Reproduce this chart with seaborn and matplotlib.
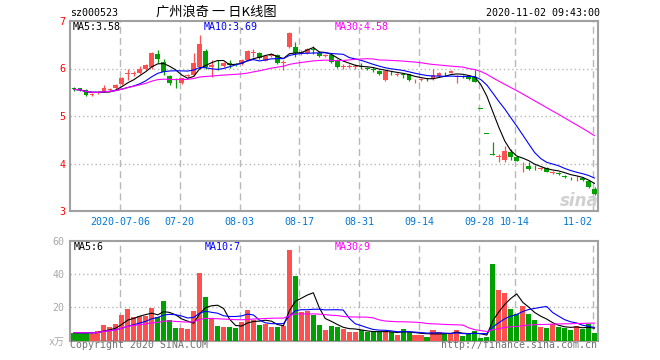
import numpy as np
import pandas as pd
import matplotlib
matplotlib.use("Agg")
import matplotlib.pyplot as plt
import seaborn as sns

# ---------------- data ----------------
code = "sz000523"
title = "广州浪奇 一 日K线图"
timestamp = "2020-11-02 09:43:00"

opens = [5.59, 5.58, 5.55, 5.45, 5.48, 5.51, 5.54, 5.58, 5.67, 5.88,
         5.89, 5.90, 5.99, 6.04, 6.30, 6.14, 5.84, 5.70, 5.69, 5.85,
         5.86, 6.04, 6.37, 6.04, 6.10, 6.05, 6.12, 6.09, 6.09, 6.17,
         6.33, 6.32, 6.16, 6.27, 6.28, 6.12, 6.46, 6.46, 6.33, 6.33,
         6.40, 6.33, 6.27, 6.28, 6.18, 6.04, 6.04, 6.04, 6.05, 6.02,
         5.98, 5.94, 5.76, 5.91, 5.87, 5.89, 5.88, 5.75, 5.76, 5.78,
         5.77, 5.85, 5.89, 5.91, 5.83, 5.84, 5.84, 5.83, 5.15, 4.63,
         4.19, 4.13, 4.07, 4.25, 4.14, 3.94, 3.95, 3.91, 3.89, 3.90,
         3.80, 3.81, 3.73, 3.70, 3.69, 3.69, 3.64, 3.46]
highs = [5.61, 5.60, 5.56, 5.48, 5.52, 5.65, 5.58, 5.67, 5.83, 6.00,
         5.95, 6.06, 6.10, 6.34, 6.40, 6.21, 5.86, 5.79, 5.81, 5.89,
         6.32, 6.70, 6.42, 6.18, 6.18, 6.14, 6.18, 6.11, 6.19, 6.39,
         6.42, 6.34, 6.28, 6.33, 6.30, 6.17, 6.76, 6.56, 6.38, 6.43,
         6.47, 6.36, 6.31, 6.30, 6.20, 6.10, 6.09, 6.09, 6.12, 6.04,
         6.03, 5.96, 5.97, 5.95, 5.91, 5.91, 5.89, 5.78, 5.79, 5.80,
         5.99, 5.92, 5.92, 5.97, 5.86, 5.86, 5.86, 5.97, 5.15, 4.63,
         4.46, 4.21, 4.37, 4.30, 4.16, 4.04, 4.03, 3.96, 3.93, 3.92,
         3.85, 3.83, 3.76, 3.72, 3.74, 3.71, 3.66, 3.50]
lows = [5.53, 5.52, 5.42, 5.43, 5.46, 5.50, 5.52, 5.56, 5.66, 5.75,
        5.85, 5.88, 5.97, 6.00, 6.11, 5.86, 5.65, 5.58, 5.67, 5.82,
        5.84, 6.00, 6.00, 5.82, 5.97, 6.03, 6.02, 6.05, 6.08, 6.15,
        6.25, 6.21, 6.15, 6.25, 6.10, 5.97, 6.44, 6.25, 6.28, 6.31,
        6.31, 6.25, 6.24, 6.12, 6.02, 6.00, 6.01, 6.00, 5.98, 5.97,
        5.93, 5.87, 5.74, 5.86, 5.84, 5.81, 5.74, 5.69, 5.73, 5.74,
        5.75, 5.83, 5.85, 5.90, 5.69, 5.80, 5.75, 5.71, 5.15, 4.63,
        4.17, 4.04, 4.04, 4.07, 4.05, 3.82, 3.86, 3.86, 3.86, 3.82,
        3.77, 3.76, 3.69, 3.66, 3.63, 3.63, 3.49, 3.34]
closes = [5.56, 5.54, 5.44, 5.46, 5.49, 5.58, 5.56, 5.65, 5.81, 5.90,
          5.90, 5.99, 6.07, 6.32, 6.21, 5.93, 5.70, 5.69, 5.79, 5.86,
          6.12, 6.51, 6.04, 6.08, 6.09, 6.12, 6.07, 6.08, 6.17, 6.37,
          6.34, 6.23, 6.26, 6.31, 6.12, 6.13, 6.74, 6.33, 6.34, 6.41,
          6.39, 6.27, 6.28, 6.14, 6.04, 6.05, 6.05, 6.06, 6.03, 5.99,
          5.97, 5.89, 5.95, 5.90, 5.88, 5.87, 5.76, 5.76, 5.77, 5.77,
          5.86, 5.90, 5.88, 5.95, 5.84, 5.82, 5.77, 5.72, 5.15, 4.63,
          4.17, 4.15, 4.27, 4.14, 4.06, 3.95, 3.88, 3.90, 3.90, 3.83,
          3.81, 3.78, 3.72, 3.69, 3.70, 3.65, 3.50, 3.36]
volumes = [4.8, 4.8, 4.8, 4.2, 6.0, 9.4, 8.2, 10.0, 15.4, 19.0,
           14.2, 15.0, 14.8, 19.6, 14.0, 23.8, 12.4, 7.6, 7.6, 7.2,
           17.8, 40.6, 26.2, 13.0, 8.8, 8.2, 8.2, 7.6, 11.0, 18.2,
           12.6, 9.4, 10.2, 8.2, 8.2, 8.8, 54.4, 38.8, 17.2, 17.8,
           15.6, 9.4, 6.4, 9.0, 8.4, 7.0, 5.4, 5.4, 6.2, 5.4,
           5.0, 5.0, 5.8, 5.4, 3.4, 7.0, 5.0, 3.4, 3.4, 2.2,
           6.4, 5.0, 4.2, 3.8, 6.4, 3.0, 3.8, 5.8, 1.8, 2.4,
           46.0, 30.4, 28.6, 19.2, 16.2, 20.8, 16.0, 12.4, 8.2, 7.6,
           9.8, 8.4, 7.8, 6.4, 9.0, 7.2, 9.8, 4.8]

tick_idx = [8, 18, 28, 38, 48, 58, 68, 74, 87]
tick_labels = ["2020-07-06", "07-20", "08-03", "08-17", "08-31",
               "09-14", "09-28", "10-14", "11-02"]
price_ticks = [3, 4, 5, 6, 7]
vol_ticks = [0, 20, 40, 60]
vol_tick_labels = ["x万", "20", "40", "60"]
price_ma_labels = ["MA5:3.58", "MA10:3.69", "MA30:4.58"]
vol_ma_labels = ["MA5:6", "MA10:7", "MA30:9"]
footer_left = "Copyright 2020 SINA.COM"
footer_right = "http://finance.sina.com.cn"
watermark = "sina"

# ---------------- derived ----------------
df = pd.DataFrame(dict(open=opens, high=highs, low=lows, close=closes, volume=volumes))
df["i"] = np.arange(len(df))
prev = df["close"].shift(1).fillna(df["close"])
df["up"] = (df["close"] > df["open"]) | ((df["close"] == df["open"]) & (df["close"] >= prev))
for w in (5, 10, 30):
    df[f"ma{w}"] = df["close"].rolling(w, min_periods=1).mean()
    df[f"vma{w}"] = df["volume"].rolling(w, min_periods=1).mean()

RED = "#FF5050"
GREEN = "#00A000"
MA_COLORS = ["#000000", "#0000FF", "#FF00FF"]
GRID = "#B8B8B8"
SPINE = "#A0A0A0"
MONO = ["DejaVu Sans Mono", "Noto Sans CJK SC"]

sns.set_theme(style="white")
plt.rcParams["font.family"] = MONO

W, H = 660, 360
fig = plt.figure(figsize=(W / 100, H / 100), dpi=100)
fig.patch.set_facecolor("white")


def axes_px(l, t, r, b):
    return fig.add_axes([l / W, 1 - b / H, (r - l) / W, (b - t) / H])


ax = axes_px(70, 21, 597.7, 211)
axv = axes_px(70, 240.7, 597.7, 340.7)
XL = (-0.67, 87.53)
grid_x = np.array(tick_idx) - 0.33
colors = np.where(df["up"], RED, GREEN)

# ---------------- price panel ----------------
for gx in grid_x:
    ax.axvline(gx, color=GRID, lw=1, ls=(0, (5, 3)), zorder=1)
for gy in price_ticks[1:-1]:
    ax.axhline(gy, color=GRID, lw=1, ls=(0, (1, 2)), zorder=1)

ax.vlines(df["i"], df["low"], df["high"], colors=colors, lw=0.9, zorder=3)
body_lo = np.minimum(df["open"], df["close"])
body_h = np.maximum((df["close"] - df["open"]).abs(), 0.012)
ax.bar(df["i"], body_h, bottom=body_lo, width=0.8, color=colors, lw=0, zorder=4)

for w, c in zip((5, 10, 30), MA_COLORS):
    sns.lineplot(data=df, x="i", y=f"ma{w}", ax=ax, color=c, lw=0.8, zorder=5, legend=False)

ax.set_xlim(*XL)
ax.set_ylim(3, 7)
ax.set_xlabel("")
ax.set_ylabel("")
ax.set_yticks(price_ticks)
ax.set_yticklabels([str(t) for t in price_ticks])
ax.tick_params(axis="y", length=0, pad=3.5, labelcolor="#FF0000", labelsize=7.2)
ax.set_xticks(grid_x)
ax.set_xticklabels(tick_labels)
ax.tick_params(axis="x", length=0, pad=4.5, labelcolor="#0078D7", labelsize=7.2)
lbls = ax.get_xticklabels()
lbls[-1].set_horizontalalignment("right")
for s in ax.spines.values():
    s.set_color(SPINE)
    s.set_linewidth(1.5)

ax.text(0.965, 0.05, watermark, transform=ax.transAxes, color="#D0D0D0", fontsize=12,
        fontweight="bold", fontstyle="italic", family="DejaVu Sans",
        ha="center", va="center", zorder=2)

# ---------------- volume panel ----------------
for gx in grid_x:
    axv.axvline(gx, color=GRID, lw=1, ls=(0, (5, 3)), zorder=1)
for gy in vol_ticks[1:-1]:
    axv.axhline(gy, color=GRID, lw=1, ls=(0, (1, 2)), zorder=1)
axv.bar(df["i"], df["volume"], width=0.85, color=colors, lw=0, zorder=3)
for w, c in zip((5, 10, 30), MA_COLORS):
    sns.lineplot(data=df, x="i", y=f"vma{w}", ax=axv, color=c, lw=0.8, zorder=5, legend=False)
axv.set_xlim(*XL)
axv.set_ylim(0, 60)
axv.set_xlabel("")
axv.set_ylabel("")
axv.set_xticks([])
axv.set_yticks(vol_ticks)
axv.set_yticklabels(vol_tick_labels)
axv.tick_params(axis="y", length=0, pad=4, labelcolor="#A8A8A8", labelsize=7.2)
for s in axv.spines.values():
    s.set_color(SPINE)
    s.set_linewidth(1.5)


def ftext(x, y, s, **kw):
    fig.text(x / W, 1 - y / H, s, **kw)


# legends
for (lab, x, c) in zip(price_ma_labels, (73, 204, 334.5), MA_COLORS):
    ftext(x, 27, lab, color=c, fontsize=7.2, va="center", ha="left")
for (lab, x, c) in zip(vol_ma_labels, (74, 205, 335), MA_COLORS):
    ftext(x, 246.5, lab, color=c, fontsize=7.2, va="center", ha="left")

# header
ftext(70, 12.5, code, color="black", fontsize=7.2, va="center", ha="left")
ftext(216, 12.5, title, color="black", fontsize=9.5, va="center", ha="center",
      family=["Noto Sans CJK SC", "DejaVu Sans"])
ftext(600, 12.5, timestamp, color="black", fontsize=7.2, va="center", ha="right")

# footer
ftext(70, 345.5, footer_left, color="#707070", fontsize=7.1, va="center", ha="left")
ftext(597, 345.5, footer_right, color="#707070", fontsize=7.1, va="center", ha="right")

fig.savefig("out.png", dpi=100, facecolor="white")
